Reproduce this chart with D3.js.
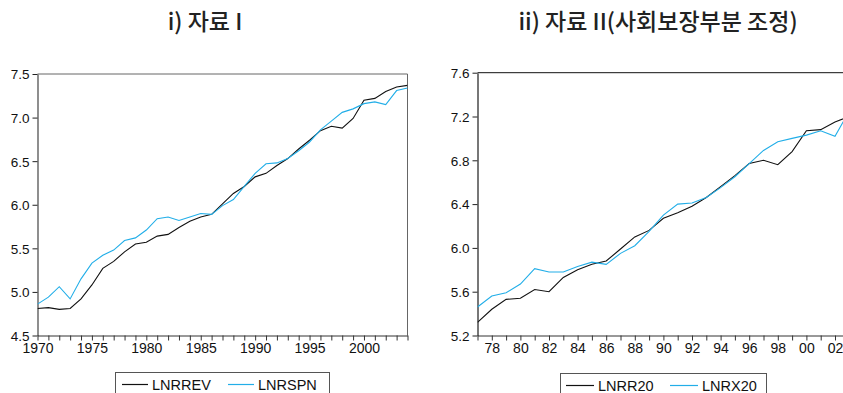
<!DOCTYPE html>
<html>
<head>
<meta charset="utf-8">
<script src="https://cdn.jsdelivr.net/npm/d3@7/dist/d3.min.js"></script>
<style>
  html, body { margin: 0; padding: 0; background: #fff; }
  svg { display: block; }
  .tick text { font-family: "Liberation Sans", Arial, sans-serif; fill: #111; }
  .title { font-family: "Noto Sans CJK KR", sans-serif; font-weight: 500; fill: #222; }
  .leg { font-family: "Liberation Sans", Arial, sans-serif; font-size: 14.5px; fill: #111; }
</style>
</head>
<body>
<svg id="chart" width="843" height="393"></svg>
<script>
// Panel i) : 1970–2004
const yearsA = d3.range(1970, 2005);
const lnrrev = [4.81, 4.82, 4.80, 4.81, 4.92, 5.08, 5.27, 5.35, 5.46, 5.55,
                5.57, 5.64, 5.66, 5.74, 5.81, 5.86, 5.89, 6.01, 6.13, 6.21,
                6.32, 6.36, 6.45, 6.53, 6.64, 6.74, 6.85, 6.90, 6.88, 6.99,
                7.20, 7.22, 7.30, 7.35, 7.37];
const lnrspn = [4.86, 4.94, 5.06, 4.92, 5.15, 5.33, 5.42, 5.48, 5.59, 5.62,
                5.71, 5.84, 5.86, 5.82, 5.86, 5.90, 5.89, 5.99, 6.06, 6.21,
                6.36, 6.47, 6.48, 6.53, 6.62, 6.72, 6.86, 6.96, 7.06, 7.10,
                7.16, 7.18, 7.15, 7.31, 7.34];
const yTicksA = [4.5, 5.0, 5.5, 6.0, 6.5, 7.0, 7.5];
const xLabelsA = [1970, 1975, 1980, 1985, 1990, 1995, 2000];

// Panel ii) : 1977–2003
const yearsB = d3.range(1977, 2004);
const lnrr20 = [5.32, 5.44, 5.53, 5.54, 5.62, 5.60, 5.73, 5.80, 5.85, 5.88,
                5.99, 6.10, 6.16, 6.27, 6.32, 6.38, 6.46, 6.56, 6.66, 6.77,
                6.80, 6.76, 6.88, 7.07, 7.08, 7.15, 7.20];
const lnrx20 = [5.46, 5.56, 5.59, 5.67, 5.81, 5.78, 5.78, 5.83, 5.87, 5.85,
                5.95, 6.02, 6.15, 6.30, 6.40, 6.41, 6.46, 6.55, 6.65, 6.77,
                6.89, 6.97, 7.00, 7.03, 7.07, 7.02, 7.25];
const yTicksB = [5.2, 5.6, 6.0, 6.4, 6.8, 7.2, 7.6];
const xLabelsB = d3.range(1978, 2003, 2);

const BLUE = "#22aee8";
const svg = d3.select("#chart");

function panel(cfg) {
  const x = d3.scaleLinear().domain(cfg.xDomain).range(cfg.xRange);
  const y = d3.scaleLinear().domain(cfg.yDomain).range(cfg.yRange);
  const g = svg.append("g");
  const [x0, x1] = cfg.xRange, [yb, yt] = cfg.yRange;

  // frame: top and right edges
  g.append("line").attr("x1", x0).attr("x2", x1).attr("y1", yt).attr("y2", yt)
    .attr("stroke", cfg.topColor).attr("stroke-width", 1);
  g.append("line").attr("x1", x1).attr("x2", x1).attr("y1", yt).attr("y2", yb)
    .attr("stroke", cfg.rightColor).attr("stroke-width", 1);

  // y axis
  const ya = g.append("g").attr("transform", `translate(${x0},0)`)
    .call(d3.axisLeft(y).tickValues(cfg.yTicks).tickFormat(d3.format(".1f"))
      .tickSize(5).tickSizeOuter(0).tickPadding(3));
  ya.select(".domain").attr("stroke", cfg.leftColor).attr("stroke-width", cfg.leftWidth);
  ya.selectAll(".tick line").attr("stroke", "#222");
  ya.selectAll(".tick text").attr("font-size", 13.5).attr("dy", "0.36em");

  // x axis: a tick every year, labels on selected years
  const labelSet = new Set(cfg.xLabels);
  const xa = g.append("g").attr("transform", `translate(0,${yb})`)
    .call(d3.axisBottom(x).tickValues(cfg.years).tickSize(5).tickSizeOuter(0).tickPadding(3)
      .tickFormat(d => labelSet.has(d) ? cfg.fmt(d) : ""));
  xa.select(".domain").attr("stroke", "#333");
  xa.selectAll(".tick line").attr("stroke", "#333");
  xa.selectAll(".tick text").attr("font-size", 14);

  // series
  const clipId = cfg.id + "-clip";
  svg.append("clipPath").attr("id", clipId).append("rect")
    .attr("x", x0).attr("y", yt - 2).attr("width", x1 - x0).attr("height", yb - yt + 4);
  const line = d3.line().x((d, i) => x(cfg.years[i])).y(d => y(d));
  cfg.series.forEach(s => {
    g.append("path").datum(s.values).attr("d", line).attr("fill", "none")
      .attr("stroke", s.color).attr("stroke-width", 1.1)
      .attr("clip-path", `url(#${clipId})`);
  });

  // title
  svg.append("text").attr("class", "title").attr("x", cfg.titleX).attr("y", 30)
    .attr("text-anchor", "middle").attr("font-size", 23).text(cfg.title);

  // legend box
  const L = cfg.legend;
  svg.append("rect").attr("x", L.x).attr("y", L.y).attr("width", L.w).attr("height", 40)
    .attr("fill", "none").attr("stroke", "#555").attr("stroke-width", 1);
  cfg.series.forEach((s, i) => {
    const lx = L.items[i];
    svg.append("line").attr("x1", lx).attr("x2", lx + L.sw).attr("y1", L.y + 12).attr("y2", L.y + 12)
      .attr("stroke", s.color).attr("stroke-width", 1.2);
    svg.append("text").attr("class", "leg").attr("x", lx + L.sw + 4).attr("y", L.y + 17).text(s.name);
  });
}

panel({
  id: "a", title: "i) 자료 I", titleX: 205,
  years: yearsA, xDomain: [1970, 2004], xRange: [37.5, 407.5],
  yDomain: [4.5, 7.5], yRange: [335.5, 74], yTicks: yTicksA,
  xLabels: xLabelsA, fmt: d => String(d),
  topColor: "#666", rightColor: "#666", leftColor: "#444", leftWidth: 1.2,
  series: [{ name: "LNRREV", values: lnrrev, color: "#111" },
           { name: "LNRSPN", values: lnrspn, color: BLUE }],
  legend: { x: 115.5, y: 372.5, w: 214, items: [122, 228], sw: 26 }
});

panel({
  id: "b", title: "ii) 자료 II(사회보장부분 조정)", titleX: 658,
  years: yearsB, xDomain: [1977, 2003], xRange: [477.5, 849.3],
  yDomain: [5.2, 7.6], yRange: [335.5, 72.7], yTicks: yTicksB,
  xLabels: xLabelsB, fmt: d => String(d % 100).padStart(2, "0"),
  topColor: "#111", rightColor: "#111", leftColor: "#777", leftWidth: 2,
  series: [{ name: "LNRR20", values: lnrr20, color: "#111" },
           { name: "LNRX20", values: lnrx20, color: BLUE }],
  legend: { x: 560.5, y: 373.5, w: 206, items: [566, 670], sw: 28 }
});
</script>
</body>
</html>
